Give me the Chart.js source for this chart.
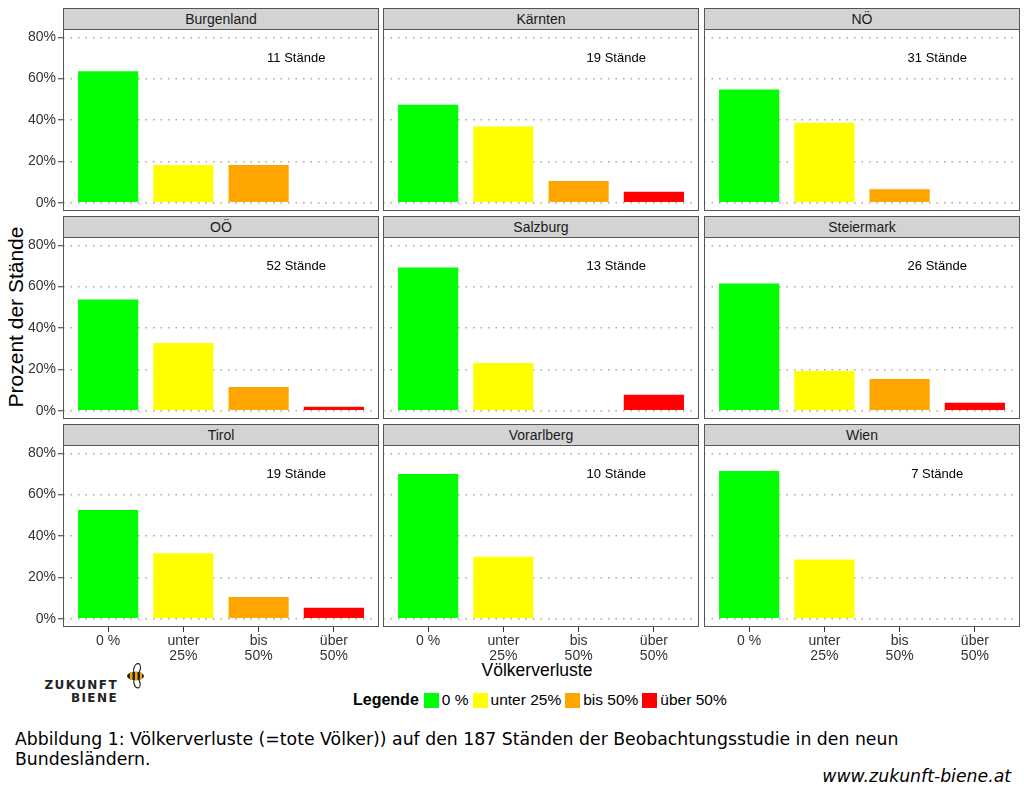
<!DOCTYPE html>
<html lang="de">
<head>
<meta charset="utf-8">
<title>Völkerverluste nach Bundesland</title>
<script src="https://cdn.jsdelivr.net/npm/chart.js@4.4.1/dist/chart.umd.min.js"></script>
<style>
  html, body { margin: 0; padding: 0; background: #fff; }
  body {
    width: 1024px; height: 793px; position: relative; overflow: hidden;
    font-family: "Liberation Sans", Arial, sans-serif; color: #000;
  }
  .panel { position: absolute; }
  .strip {
    position: absolute; height: 22px; box-sizing: border-box;
    background: #d3d3d3; border: 1px solid #555;
    font-size: 14px; line-height: 20px; text-align: center; color: #1a1a1a;
  }
  .axis-title { position: absolute; font-size: 17.5px; white-space: nowrap; color: #000; }
  #yTitle { font-size: 21px; left: 16px; top: 317px; transform: translate(-50%, -50%) rotate(-90deg); }
  #xTitle { left: 537px; top: 670px; transform: translate(-50%, -50%); }
  #logo { position: absolute; left: 40px; top: 660px; width: 110px; height: 50px; }
  #logo .word {
    position: absolute; right: 32px; font-weight: bold; font-size: 12px;
    letter-spacing: 1.4px; color: #222; font-family: "DejaVu Sans", sans-serif;
  }
  #logo svg { position: absolute; left: 83px; top: 2px; }
  #legend {
    position: absolute; left: 353px; top: 691px; display: flex; align-items: center;
    font-size: 15.5px; white-space: nowrap;
  }
  #legend b { margin-right: 5px; font-size: 16px; }
  #legend .sw { width: 15px; height: 15px; margin: 0 3px 0 0; display: inline-block; }
  #legend .lab { margin-right: 4px; }
  #caption {
    position: absolute; left: 15px; top: 729px; width: 950px;
    font-family: "DejaVu Sans", sans-serif; font-size: 17.3px; line-height: 20px;
  }
  #url {
    position: absolute; right: 13px; top: 766px;
    font-family: "DejaVu Sans", sans-serif; font-style: italic; font-size: 17.3px;
  }
</style>
</head>
<body>
<div id="yTitle" class="axis-title">Prozent der Stände</div>
<div id="xTitle" class="axis-title">Völkerverluste</div>
<div id="logo">
  <div class="word" style="top:18px">ZUKUNFT</div>
  <div class="word" style="top:31px">BIENE</div>
  <svg width="24" height="28" viewBox="0 0 24 28">
    <ellipse cx="14" cy="7" rx="3.2" ry="5.5" fill="#fff" stroke="#222" stroke-width="1.2" transform="rotate(15 14 7)"/>
    <ellipse cx="14" cy="21" rx="3" ry="5" fill="#fff" stroke="#222" stroke-width="1.2" transform="rotate(-15 14 21)"/>
    <ellipse cx="12.5" cy="14" rx="8.5" ry="4.3" fill="#222"/>
    <rect x="7" y="10" width="2.5" height="8" fill="#f0a800"/>
    <rect x="12" y="10" width="2.5" height="8" fill="#f0a800"/>
    <rect x="17" y="10.5" width="2" height="7" fill="#f0a800"/>
  </svg>
</div>
<div id="legend"><b>Legende</b></div>
<div id="caption">Abbildung 1: Völkerverluste (=tote Völker)) auf den 187 Ständen der Beobachtungsstudie in den neun Bundesländern.</div>
<div id="url">www.zukunft-biene.at</div>

<script>
// Bundesländer in Panel-Reihenfolge (zeilenweise)
const states      = ['Burgenland', 'Kärnten', 'NÖ', 'OÖ', 'Salzburg', 'Steiermark', 'Tirol', 'Vorarlberg', 'Wien'];
const standCounts = [11, 19, 31, 52, 13, 26, 19, 10, 7];

const lossCategories = ['0 %', ['unter', '25%'], ['bis', '50%'], ['über', '50%']];
const legendLabels   = ['0 %', 'unter 25%', 'bis 50%', 'über 50%'];
const yTicks         = [0, 20, 40, 60, 80];

// Anteil der Stände je Verlustklasse (%), je Bundesland
const pctNone    = [63.6, 47.4, 54.8, 53.8, 69.2, 61.5, 52.6, 70.0, 71.4];
const pctUnder25 = [18.2, 36.8, 38.7, 32.7, 23.1, 19.2, 31.6, 30.0, 28.6];
const pctTo50    = [18.2, 10.5,  6.5, 11.5,  0.0, 15.4, 10.5,  0.0,  0.0];
const pctOver50  = [ 0.0,  5.3,  0.0,  1.9,  7.7,  3.8,  5.3,  0.0,  0.0];

const SERIES     = [pctNone, pctUnder25, pctTo50, pctOver50];
const BAR_COLORS = ['#00ff00', '#ffff00', '#ffa500', '#ff0000'];

// panel geometry (page px)
const COL_X = [63, 383, 704];
const ROW_Y = [29, 237, 445];
const PANEL_W = 316, PANEL_H = 182;
const Y_AXIS_W = 60, X_AXIS_H = 50, PAD = 20;

const TICK_C = '#333';
Chart.defaults.font.family = '"Liberation Sans", Arial, sans-serif';

// legend
const legendEl = document.getElementById('legend');
legendLabels.forEach((l, i) => {
  legendEl.insertAdjacentHTML('beforeend',
    `<span class="sw" style="background:${BAR_COLORS[i]}"></span><span class="lab">${l}</span>`);
});

const panelFrame = {
  id: 'panelFrame',
  afterDraw(chart) {
    const { ctx, chartArea: a } = chart;
    ctx.save();
    ctx.strokeStyle = '#555';
    ctx.lineWidth = 1;
    ctx.strokeRect(a.left + 0.5, a.top + 0.5, a.width - 1, a.height - 1);
    ctx.restore();
  },
};

states.forEach((state, i) => {
  const row = Math.floor(i / 3), col = i % 3;
  const yW = col === 0 ? Y_AXIS_W : 0;
  const xH = row === 2 ? X_AXIS_H : 0;

  const strip = document.createElement('div');
  strip.className = 'strip';
  strip.style.left  = COL_X[col] + 'px';
  strip.style.top   = (ROW_Y[row] - 21) + 'px';
  strip.style.width = PANEL_W + 'px';
  strip.textContent = state;
  document.body.appendChild(strip);

  const wrap = document.createElement('div');
  wrap.className = 'panel';
  wrap.style.left   = (COL_X[col] - yW) + 'px';
  wrap.style.top    = (ROW_Y[row] - PAD) + 'px';
  wrap.style.width  = (PANEL_W + yW) + 'px';
  wrap.style.height = (PANEL_H + 2 * PAD + xH) + 'px';
  const canvas = document.createElement('canvas');
  wrap.appendChild(canvas);
  document.body.appendChild(wrap);

  const standLabel = {
    id: 'standLabel',
    afterDatasetsDraw(chart) {
      const { ctx, scales } = chart;
      ctx.save();
      ctx.font = '13px "Liberation Sans", Arial, sans-serif';
      ctx.fillStyle = '#000';
      ctx.textAlign = 'center';
      ctx.textBaseline = 'middle';
      ctx.fillText(`${standCounts[i]} Stände`, scales.x.getPixelForValue(3.5), scales.y.getPixelForValue(70));
      ctx.restore();
    },
  };

  new Chart(canvas, {
    type: 'bar',
    data: {
      datasets: [{
        data: SERIES.map((s, k) => ({ x: k + 1, y: s[i] })),
        backgroundColor: BAR_COLORS,
        borderWidth: 0,
        categoryPercentage: 1,
        barPercentage: 0.8,
      }],
    },
    options: {
      responsive: true,
      maintainAspectRatio: false,
      animation: false,
      layout: { padding: { top: PAD, bottom: PAD, left: 0, right: 0 } },
      plugins: { legend: { display: false }, tooltip: { enabled: false } },
      scales: {
        x: {
          type: 'linear',
          offset: false,
          min: 0.4,
          max: 4.6,
          display: row === 2,
          afterBuildTicks: s => { s.ticks = [1, 2, 3, 4].map(v => ({ value: v })); },
          afterFit: s => { s.height = xH; },
          ticks: {
            callback: v => lossCategories[v - 1],
            autoSkip: false,
            maxRotation: 0,
            padding: 1,
            color: TICK_C,
            font: { size: 14, lineHeight: 1.1 },
          },
          grid: { offset: false, drawOnChartArea: false, drawTicks: true, tickLength: 5, tickColor: TICK_C },
          border: { display: false },
        },
        y: {
          min: -4,
          max: 84,
          afterBuildTicks: s => { s.ticks = yTicks.map(v => ({ value: v })); },
          afterFit: s => { s.width = yW; },
          ticks: {
            display: col === 0,
            callback: v => v + '%',
            padding: 2,
            color: TICK_C,
            font: { size: 14 },
          },
          grid: {
            color: '#a8a8a8',
            lineWidth: 1.5,
            drawTicks: col === 0,
            tickLength: 5,
            tickColor: TICK_C,
            tickWidth: 1,
          },
          border: { display: false, dash: [1.5, 6] },
        },
      },
    },
    plugins: [panelFrame, standLabel],
  });
});
</script>
</body>
</html>
